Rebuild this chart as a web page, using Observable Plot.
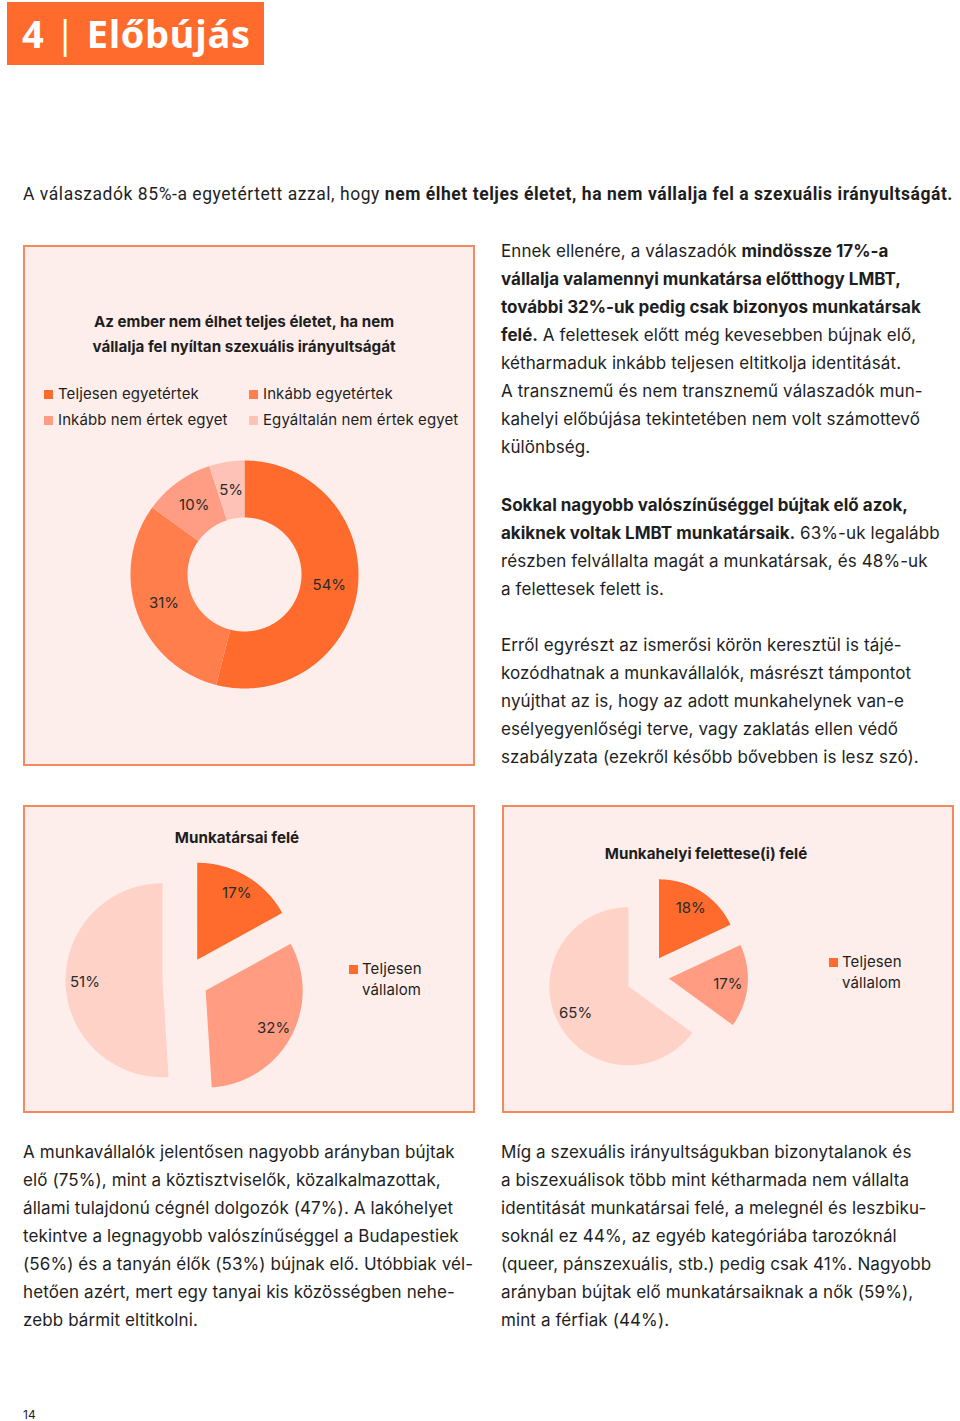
<!DOCTYPE html>
<html lang="hu">
<head>
<meta charset="utf-8">
<script src="https://cdn.jsdelivr.net/npm/d3@7"></script>
<script src="https://cdn.jsdelivr.net/npm/@observablehq/plot@0.6"></script>
<style>
  html, body { margin: 0; padding: 0; background: #fff; }
  #page { position: relative; width: 960px; height: 1421px; overflow: hidden;
          font-family: "Inter", "Noto Sans", sans-serif; color: #1e1e1e; }
  .abs { position: absolute; }
  .header { left: 7px; top: 2px; width: 257px; height: 63px; background: #FF6B2C; color: #fff;
            font-family: "Open Sans", sans-serif; font-weight: 700; font-size: 38px; line-height: 63px;
            box-sizing: border-box; padding-left: 15px; white-space: nowrap; letter-spacing: 0.6px; }
  .header .bar { font-weight: 400; }
  .intro { left: 23px; top: 183px; font-family: Roboto, sans-serif;
           font-size: 17.5px; line-height: 22px; white-space: nowrap; }
  .intro b { font-weight: 700; }
  .box { background: #FDEEEB; border: 2px solid #F28A60; box-sizing: border-box; }
  .para { font-size: 17px; line-height: 28px; white-space: nowrap; letter-spacing: 0.1px; }
  .para b { font-weight: 700; letter-spacing: 0; }
  .ctitle { font-size: 15.2px; font-weight: 700; line-height: 25px; text-align: center; white-space: nowrap; }
  .leg { font-size: 15px; line-height: 26px; white-space: nowrap; display: flex; align-items: center; letter-spacing: 0.1px; }
  .sw { display: inline-block; width: 9px; height: 9px; margin-right: 5px; }
  .leg2 { font-size: 15px; line-height: 21px; white-space: nowrap; letter-spacing: 0.1px; }
  .leg2 .sw { position: absolute; left: -13px; top: 7px; margin: 0; }
  .plotwrap svg { overflow: visible; }
</style>
</head>
<body>
<div id="page">
  <div class="abs header">4 <span class="bar">|</span> Előbújás</div>
  <div class="abs intro" id="intro">A válaszadók 85%-a egyetértett azzal, hogy <b>nem élhet teljes életet, ha nem vállalja fel a szexuális irányultságát.</b></div>

  <div class="abs box" style="left:23px;top:245px;width:452px;height:521px;"></div>
  <div class="abs box" style="left:23px;top:805px;width:452px;height:308px;"></div>
  <div class="abs box" style="left:502px;top:805px;width:452px;height:308px;"></div>

  <div class="abs ctitle" style="left:23px;width:442px;top:309px;">Az ember nem élhet teljes életet, ha nem<br>vállalja fel nyíltan szexuális irányultságát</div>

  <div class="abs ctitle" style="left:23px;width:428px;top:825px;">Munkatársai felé</div>
  <div class="abs ctitle" style="left:502px;width:408px;top:841px;">Munkahelyi felettese(i) felé</div>

  <div class="abs para" style="left:501px;top:237px;">
    Ennek ellenére, a válaszadók <b>mindössze 17%-a</b><br>
    <b>vállalja valamennyi munkatársa előtthogy LMBT,</b><br>
    <b>további 32%-uk pedig csak bizonyos munkatársak</b><br>
    <b>felé.</b> A felettesek előtt még kevesebben bújnak elő,<br>
    kétharmaduk inkább teljesen eltitkolja identitását.<br>
    A transznemű és nem transznemű válaszadók mun-<br>
    kahelyi előbújása tekintetében nem volt számottevő<br>
    különbség.
  </div>
  <div class="abs para" style="left:501px;top:491px;">
    <b>Sokkal nagyobb valószínűséggel bújtak elő azok,</b><br>
    <b>akiknek voltak LMBT munkatársaik.</b> 63%-uk legalább<br>
    részben felvállalta magát a munkatársak, és 48%-uk<br>
    a felettesek felett is.
  </div>
  <div class="abs para" style="left:501px;top:631px;">
    Erről egyrészt az ismerősi körön keresztül is tájé-<br>
    kozódhatnak a munkavállalók, másrészt támpontot<br>
    nyújthat az is, hogy az adott munkahelynek van-e<br>
    esélyegyenlőségi terve, vagy zaklatás ellen védő<br>
    szabályzata (ezekről később bővebben is lesz szó).
  </div>
  <div class="abs para" style="left:23px;top:1138px;">
    A munkavállalók jelentősen nagyobb arányban bújtak<br>
    elő (75%), mint a köztisztviselők, közalkalmazottak,<br>
    állami tulajdonú cégnél dolgozók (47%). A lakóhelyet<br>
    tekintve a legnagyobb valószínűséggel a Budapestiek<br>
    (56%) és a tanyán élők (53%) bújnak elő. Utóbbiak vél-<br>
    hetően azért, mert egy tanyai kis közösségben nehe-<br>
    zebb bármit eltitkolni.
  </div>
  <div class="abs para" style="left:501px;top:1138px;">
    Míg a szexuális irányultságukban bizonytalanok és<br>
    a biszexuálisok több mint kétharmada nem vállalta<br>
    identitását munkatársai felé, a melegnél és leszbiku-<br>
    soknál ez 44%, az egyéb kategóriába tarozóknál<br>
    (queer, pánszexuális, stb.) pedig csak 41%. Nagyobb<br>
    arányban bújtak elő munkatársaiknak a nők (59%),<br>
    mint a férfiak (44%).
  </div>
  <div class="abs" style="left:23px;top:1408px;font-size:12px;line-height:14px;">14</div>
</div>

<script>
// ---------- data ----------
const agreeCategories = ["Teljesen egyetértek", "Inkább egyetértek", "Inkább nem értek egyet", "Egyáltalán nem értek egyet"];
const agreeValues = [54, 31, 10, 5];
const agreeColors = ["#FF6B2C", "#FF7E4C", "#FF9C84", "#FFC2B6"];

const outCategories = ["Teljesen vállalom", "Részben vállalom", "Nem vállalom"];
const coworkerValues = [17, 32, 51];
const supervisorValues = [18, 17, 65];
const outColors = ["#FF6B2C", "#FF9C82", "#FFD2C8"];

const legendOutLabel = "Teljesen vállalom";

// ---------- helpers ----------
function pieGeometry(cats, vals, explode, inner, labelR) {
  const data = cats.map((c, i) => ({cat: c, v: vals[i]}));
  const arcs = d3.pie().sort(null).value(d => d.v).startAngle(0).endAngle(2 * Math.PI)(data);
  const pts = [], labels = [];
  arcs.forEach(a => {
    const mid = (a.startAngle + a.endAngle) / 2;
    const ox = explode * Math.sin(mid), oy = explode * Math.cos(mid);
    const n = Math.max(4, Math.ceil((a.endAngle - a.startAngle) / 0.01));
    for (let i = 0; i <= n; i++) {
      const t = a.startAngle + (a.endAngle - a.startAngle) * i / n;
      pts.push({cat: a.data.cat, x: ox + Math.sin(t), y: oy + Math.cos(t)});
    }
    if (inner > 0) {
      for (let i = n; i >= 0; i--) {
        const t = a.startAngle + (a.endAngle - a.startAngle) * i / n;
        pts.push({cat: a.data.cat, x: ox + inner * Math.sin(t), y: oy + inner * Math.cos(t)});
      }
    } else {
      pts.push({cat: a.data.cat, x: ox, y: oy});
    }
    const lr = explode + labelR;
    labels.push({x: lr * Math.sin(mid), y: lr * Math.cos(mid), text: a.data.v + "%"});
  });
  return {pts, labels};
}

function piePlot({cats, vals, colors, r, width, height, explode = 0, inner = 0, labelR = 0.75}) {
  const {pts, labels} = pieGeometry(cats, vals, explode, inner, labelR);
  return Plot.plot({
    width, height, margin: 0,
    x: {domain: [-width / 2 / r, width / 2 / r], axis: null},
    y: {domain: [-height / 2 / r, height / 2 / r], axis: null},
    color: {domain: cats, range: colors},
    style: {background: "transparent", overflow: "visible"},
    marks: [
      Plot.line(pts, {x: "x", y: "y", z: "cat", fill: "cat", stroke: "none", curve: "linear-closed"}),
      Plot.text(labels, {x: "x", y: "y", text: "text", fontSize: 15, fill: "#2a2a2a",
                         fontFamily: "Inter, 'Noto Sans', sans-serif"})
    ]
  });
}

const page = document.getElementById("page");
function place(node, left, top) {
  const w = document.createElement("div");
  w.className = "abs plotwrap";
  w.style.left = left + "px";
  w.style.top = top + "px";
  w.appendChild(node);
  page.appendChild(w);
}

// donut: center (244,574), outer r 114
place(piePlot({cats: agreeCategories, vals: agreeValues, colors: agreeColors, r: 114,
               width: 300, height: 260, inner: 0.5, labelR: 0.75}), 244 - 150, 574 - 130);
// coworkers pie: center (185,979), r 97
place(piePlot({cats: outCategories, vals: coworkerValues, colors: outColors, r: 97,
               width: 260, height: 240, explode: 0.237, labelR: 0.8}), 185 - 130, 979 - 120);
// supervisors pie: center (646.5,976), r 79
place(piePlot({cats: outCategories, vals: supervisorValues, colors: outColors, r: 79,
               width: 220, height: 220, explode: 0.272, labelR: 0.75}), 646.5 - 110, 976 - 110);

// legend 1 (2x2)
const legPos = [[44, 381], [249, 381], [44, 407], [249, 407]];
agreeCategories.forEach((c, i) => {
  const d = document.createElement("div");
  d.className = "abs leg";
  d.style.left = legPos[i][0] + "px";
  d.style.top = legPos[i][1] + "px";
  d.innerHTML = `<span class="sw" style="background:${agreeColors[i]}"></span>${c}`;
  page.appendChild(d);
});

// legends 2 & 3
[[362, 958], [842, 951]].forEach(([x, y]) => {
  const d = document.createElement("div");
  d.className = "abs leg2";
  d.style.left = x + "px";
  d.style.top = y + "px";
  const parts = legendOutLabel.split(" ");
  d.innerHTML = `<span class="sw" style="background:${outColors[0]}"></span>${parts[0]}<br>${parts[1]}`;
  page.appendChild(d);
});

// fit intro line to the text column width (23px .. 953px)
const intro = document.getElementById("intro");
const targetW = 930;
const w0 = intro.getBoundingClientRect().width;
const nChars = intro.textContent.length;
intro.style.letterSpacing = ((targetW - w0) / nChars) + "px";
intro.querySelector("b").style.letterSpacing = "inherit";
</script>
</body>
</html>
